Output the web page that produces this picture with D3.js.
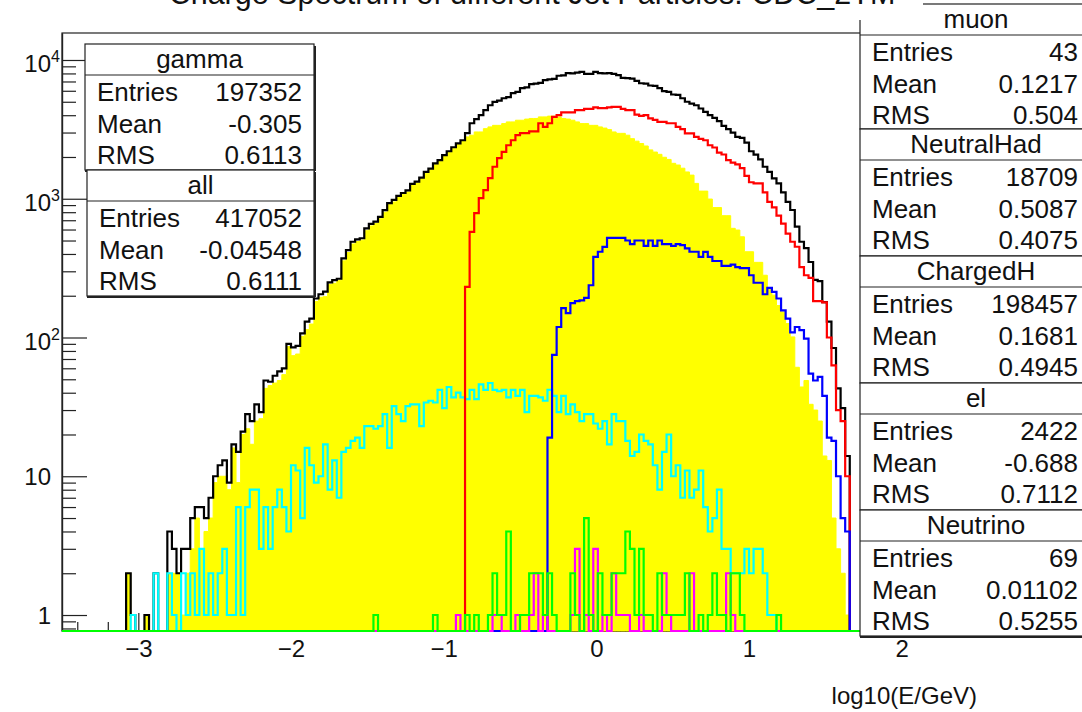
<!DOCTYPE html>
<html>
<head>
<meta charset="utf-8">
<script src="https://cdn.jsdelivr.net/npm/d3@7"></script>
<style>
  body { margin: 0; background: #fff; }
  svg { display: block; }
  text { font-family: "Liberation Sans", Arial, Helvetica, sans-serif; fill: #111; }
</style>
</head>
<body>
<svg id="chart" width="1082" height="712"></svg>
<script>
// ---- binning of log10(E/GeV): 200 bins from -3.5 to 2.5 ----
const nBins = 200;
const xLow = -3.5;
const xHigh = 2.5;

// ---- bin contents (first non-empty bin index, then consecutive counts) ----
const allFirstBin = 14;
const allCounts = [
  2,1,0,0,1,0,2,0,0,4,3,2,3,3,5,6,6,5,7,10,
  12,13,9,17,15,21,28,25,33,29,49,48,53,57,60,90,85,87,107,130,
  137,191,205,214,250,259,265,372,426,490,510,519,612,660,684,740,828,930,980,1050,
  1100,1150,1280,1330,1420,1560,1650,1800,1900,2060,2200,2350,2510,2640,2970,3500,3750,4000,4350,4720,
  4990,5100,5300,5400,5770,5900,6270,6350,6700,6750,6850,7160,7250,7300,7700,7750,8040,8000,8100,8210,
  7950,7950,8210,8040,8000,8040,7950,7770,7430,7400,7350,7060,6800,6750,6550,6500,6270,5970,5900,5640,
  5600,5300,5000,4850,4720,4470,4230,4000,3830,3620,3350,3170,3000,2790,2750,2540,2200,2080,1920,1700,
  1560,1400,1290,1110,950,830,630,490,440,350,260,255,180,130,84,43,31,14
];

const gammaFirstBin = 14;
const gammaCounts = [
  2,0,0,0,1,0,0,0,0,2,2,2,1,2,3,5,3,4,5,9,
  10,10,8,16,9,20,22,17,25,26,43,45,47,49,54,86,74,76,102,114,
  125,182,195,197,242,246,258,357,410,472,491,503,589,637,662,717,800,914,948,1022,
  1075,1118,1247,1297,1397,1526,1615,1758,1858,2030,2156,2313,2470,2603,2790,2870,3030,3030,3200,3295,
  3380,3380,3480,3580,3580,3680,3680,3750,3790,3790,3890,3890,3940,3940,3890,3790,3750,3680,3580,3480,
  3480,3380,3380,3295,3230,3150,3030,2960,2960,2870,2710,2600,2500,2400,2250,2170,2090,1990,1920,1800,
  1750,1660,1560,1480,1290,1135,1135,995,864,864,755,755,612,595,532,415,415,348,348,281,
  225,202,170,153,126,101,61,44,49,33,30,25,14,13,5,3,2,1
];

const chargedFirstBin = 88;
const chargedCounts = [
  232,578,787,1010,1153,1408,1700,1960,2176,2430,2640,2870,2970,2970,3060,3060,3500,3295,3500,3890,
  4000,4190,4190,4190,4350,4350,4440,4440,4560,4500,4500,4560,4590,4600,4440,4350,4350,4040,3950,4000,
  3790,3700,3580,3580,3500,3500,3295,3180,2960,2960,2790,2700,2640,2430,2340,2150,2084,1900,1820,1770,
  1660,1460,1315,1290,1290,1110,950,868,755,662,561,490,451,322,281,269,183,183,179,100,
  63,30,25,10
];

const neutralFirstBin = 106;
const neutralCounts = [
  19,75,119,163,150,177,183,185,193,238,381,415,450,522,522,522,522,500,471,500,
  500,458,500,458,500,471,471,458,471,463,439,415,415,381,414,381,356,356,328,328,
  335,322,316,316,281,248,248,205,228,213,191,157,137,109,119,113,98,55,49,52,
  38,19,18,10,5,4
];

const elFirstBin = 15;
const elCounts = [
  1,0,0,0,0,2,0,0,2,1,0,2,1,2,1,3,1,2,1,2,
  3,1,1,6,1,6,8,8,3,6,3,6,8,6,4,12,11,5,16,12,
  9,10,17,8,13,7,15,16,18,19,16,23,23,22,23,28,16,32,28,25,
  32,33,33,23,34,35,34,42,31,44,37,40,37,36,42,36,46,42,47,42,
  41,42,37,42,38,42,29,38,38,37,35,42,38,29,38,28,33,29,25,28,
  28,24,22,25,17,28,25,25,18,14,15,20,18,17,12,8,15,20,10,12,
  7,11,7,8,11,6,4,5,8,3,3,2,2,2,3,2,3,3,2,1,
  1
];

const muonFirstBin = 86;
const muonCounts = [
  1,0,0,0,0,0,0,0,1,1,0,0,0,1,0,0,1,2,0,1,
  0,0,0,0,0,1,3,0,1,0,3,0,1,0,2,1,1,1,0,0,
  1,0,0,0,0,2,1,0,0,0,0,2,0,0,0,0,0,0,0,2,
  1
];

const neutrinoFirstBin = 68;
const neutrinoCounts = [
  1,0,0,0,0,0,0,0,0,0,0,0,0,1,0,0,0,0,0,0,
  1,0,1,0,0,1,2,1,1,4,0,0,1,1,2,2,2,1,2,1,
  0,0,0,2,1,0,5,1,0,2,1,1,2,2,2,4,3,1,3,1,
  1,0,2,1,1,1,1,1,2,0,0,1,0,1,2,1,1,0,2,2,
  1,0,0,0,0,0,0,0,1
];

// ---- statistics boxes ----
const statNames   = ["gamma", "all", "muon", "NeutralHad", "ChargedH", "el", "Neutrino"];
const statEntries = ["197352", "417052", "43", "18709", "198457", "2422", "69"];
const statMeans   = ["-0.305", "-0.04548", "0.1217", "0.5087", "0.1681", "-0.688", "0.01102"];
const statRMS     = ["0.6113", "0.6111", "0.504", "0.4075", "0.4945", "0.7112", "0.5255"];

// ---- axis ticks ----
const xMajorTicks = [-3, -2, -1, 0, 1, 2];
const yMajorTicks = [1, 10, 100, 1000, 10000];
const yTickLabels = [["1", ""], ["10", ""], ["10", "2"], ["10", "3"], ["10", "4"]];

const titleText = "Charge Spectrum of different Jet Particles: CDC_2TM";
const xAxisTitle = "log10(E/GeV)";

// ================= drawing =================
const svg = d3.select("#chart");
const frame = { left: 62, right: 978, top: 33, bottom: 631 };
const yMin = 0.767, yMax = 15650;
const binW = (xHigh - xLow) / nBins;

const x = d3.scaleLinear().domain([xLow, xHigh]).range([frame.left, frame.right]);
const y = d3.scaleLog().domain([yMin, yMax]).range([frame.bottom, frame.top]);

function fullBins(first, counts) {
  const a = new Array(nBins).fill(0);
  counts.forEach((c, i) => { a[first + i] = c; });
  return a;
}
function stepPoints(bins) {
  const pts = [];
  bins.forEach((c, i) => {
    const lo = xLow + i * binW, hi = lo + binW;
    const v = Math.max(c, yMin);
    pts.push([lo, v], [hi, v]);
  });
  return pts;
}
const stepLine = d3.line().x(d => x(d[0])).y(d => y(d[1]));
const stepArea = d3.area().x(d => x(d[0])).y0(frame.bottom).y1(d => y(d[1]));

svg.append("defs").append("clipPath").attr("id", "plotClip")
  .append("rect")
  .attr("x", frame.left).attr("y", frame.top)
  .attr("width", frame.right - frame.left)
  .attr("height", frame.bottom - frame.top + 2.5);

// frame
svg.append("rect")
  .attr("x", frame.left).attr("y", frame.top)
  .attr("width", frame.right - frame.left)
  .attr("height", frame.bottom - frame.top)
  .attr("fill", "none").attr("stroke", "#222").attr("stroke-width", 1.2);

// x axis: major ticks with labels, minor ticks every 0.2
const xAxisG = svg.append("g").attr("transform", `translate(0,${frame.bottom})`);
xAxisG.call(d3.axisBottom(x).tickValues(xMajorTicks).tickSizeInner(-18).tickSizeOuter(0)
  .tickPadding(9).tickFormat(d3.format("d")));
const xMinor = d3.range(-34, 25, 2).map(v => v / 10).filter(v => Math.abs(v - Math.round(v)) > 1e-6);
svg.append("g").attr("transform", `translate(0,${frame.bottom})`)
  .call(d3.axisBottom(x).tickValues(xMinor).tickSizeInner(-9).tickSizeOuter(0).tickFormat(""));

// y axis: decades with labels, minor ticks at 2..9 x 10^n
const yAxisG = svg.append("g").attr("transform", `translate(${frame.left},0)`);
yAxisG.call(d3.axisLeft(y).tickValues(yMajorTicks).tickSizeInner(-25).tickSizeOuter(0).tickFormat(""));
const yMinor = [];
for (let e = -1; e <= 4; e++) for (let k = 2; k <= 9; k++) {
  const v = k * Math.pow(10, e);
  if (v > yMin && v < yMax) yMinor.push(v);
}
svg.append("g").attr("transform", `translate(${frame.left},0)`)
  .call(d3.axisLeft(y).tickValues(yMinor).tickSizeInner(-14).tickSizeOuter(0).tickFormat(""));

svg.selectAll(".domain").attr("stroke", "#222").attr("stroke-width", 1.2);
svg.selectAll(".tick line").attr("stroke", "#222").attr("stroke-width", 1.2);
xAxisG.selectAll("text").attr("font-size", 24).attr("fill", "#111")
  .style("font-family", "'Liberation Sans', Arial, sans-serif");

// histograms are painted over the frame and ticks
const hist = svg.append("g").attr("clip-path", "url(#plotClip)");

// photon spectrum as a filled histogram
const gammaBins = fullBins(gammaFirstBin, gammaCounts);
hist.append("path")
  .attr("d", stepArea(stepPoints(gammaBins)))
  .attr("fill", "#ffff00")
  .attr("stroke", "#ffff00")
  .attr("stroke-width", 1);

const outlines = [
  { first: allFirstBin, counts: allCounts, color: "#000000" },
  { first: elFirstBin, counts: elCounts, color: "#00ffff" },
  { first: chargedFirstBin, counts: chargedCounts, color: "#ff0000" },
  { first: neutralFirstBin, counts: neutralCounts, color: "#0000ff" },
  { first: muonFirstBin, counts: muonCounts, color: "#ff00ff" },
  { first: neutrinoFirstBin, counts: neutrinoCounts, color: "#00ff00" }
];
outlines.forEach(h => {
  hist.append("path")
    .attr("d", stepLine(stepPoints(fullBins(h.first, h.counts))))
    .attr("fill", "none")
    .attr("stroke", h.color)
    .attr("stroke-width", 2.2)
    .attr("stroke-linejoin", "miter");
});

// y tick labels with superscript exponents
const yLab = svg.append("g");
yMajorTicks.forEach((v, i) => {
  const [base, exp] = yTickLabels[i];
  const cy = y(v);
  yLab.append("text")
    .attr("x", 51).attr("y", cy + (exp ? 12 : 8.5))
    .attr("text-anchor", "end").attr("font-size", 24).text(base);
  if (exp) {
    yLab.append("text")
      .attr("x", 51).attr("y", cy + 2)
      .attr("font-size", 16).text(exp);
  }
});

// x axis title
svg.append("text")
  .attr("x", 977).attr("y", 704)
  .attr("text-anchor", "end").attr("font-size", 24)
  .text(xAxisTitle);

// statistics boxes
const boxLayout = [
  { x: 85,  y: 44,  w: 229, h: 126, labelX: 97,  valueX: 302 },
  { x: 87,  y: 170, w: 227, h: 126, labelX: 99,  valueX: 302 },
  { x: 860, y: 4,   w: 232, h: 125, labelX: 872, valueX: 1078 },
  { x: 860, y: 129, w: 232, h: 127, labelX: 872, valueX: 1078 },
  { x: 860, y: 256, w: 232, h: 127, labelX: 872, valueX: 1078 },
  { x: 860, y: 383, w: 232, h: 127, labelX: 872, valueX: 1078 },
  { x: 860, y: 510, w: 232, h: 126, labelX: 872, valueX: 1078 }
];
const boxes = svg.append("g");
statNames.forEach((name, i) => {
  const b = boxLayout[i];
  const g = boxes.append("g");
  g.append("rect").attr("x", b.x).attr("y", b.y).attr("width", b.w).attr("height", b.h)
    .attr("fill", "#fff").attr("stroke", "#222").attr("stroke-width", 1.2);
  // shadow along bottom and right edges
  g.append("line").attr("x1", b.x).attr("x2", b.x + b.w + 1)
    .attr("y1", b.y + b.h + 1).attr("y2", b.y + b.h + 1)
    .attr("stroke", "#222").attr("stroke-width", 2);
  g.append("line").attr("x1", b.x + b.w + 1).attr("x2", b.x + b.w + 1)
    .attr("y1", b.y + 2).attr("y2", b.y + b.h + 1)
    .attr("stroke", "#222").attr("stroke-width", 2);
  g.append("line").attr("x1", b.x).attr("x2", b.x + b.w)
    .attr("y1", b.y + 31).attr("y2", b.y + 31)
    .attr("stroke", "#222").attr("stroke-width", 1.2);
  g.append("text").attr("x", b.x + b.w / 2).attr("y", b.y + 24)
    .attr("text-anchor", "middle").attr("font-size", 26).text(name);
  const rows = [["Entries", statEntries[i]], ["Mean", statMeans[i]], ["RMS", statRMS[i]]];
  rows.forEach((r, j) => {
    const by = b.y + 57 + j * 31.5;
    g.append("text").attr("x", b.labelX).attr("y", by).attr("font-size", 26).text(r[0]);
    g.append("text").attr("x", b.valueX).attr("y", by).attr("text-anchor", "end")
      .attr("font-size", 26).text(r[1]);
  });
});

// title pave, running off the top edge of the canvas
svg.append("rect").attr("x", 130).attr("y", 0).attr("width", 793).attr("height", 20).attr("fill", "#fff");
svg.append("text").attr("x", 532).attr("y", 4)
  .attr("text-anchor", "middle").attr("font-size", 30.5).text(titleText);
</script>
</body>
</html>
